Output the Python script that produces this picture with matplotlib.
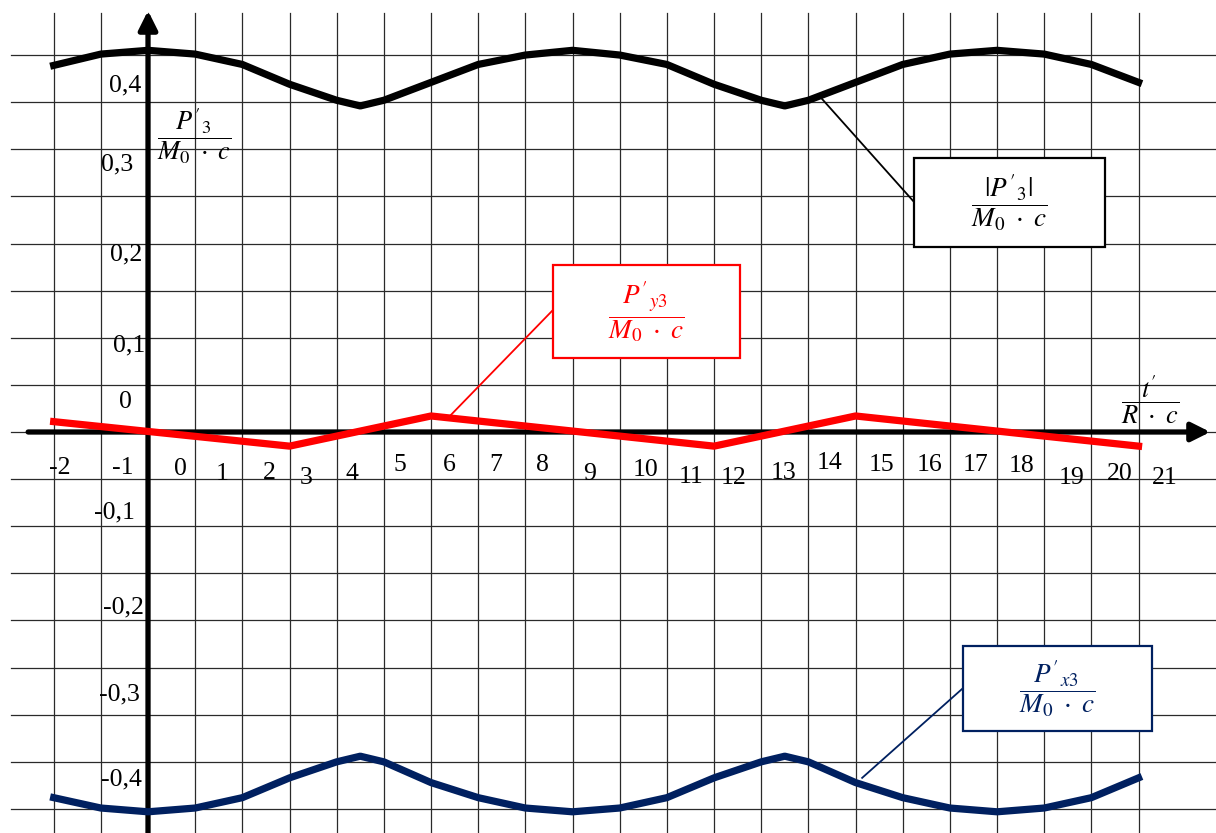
import matplotlib
matplotlib.use("Agg")
import matplotlib.pyplot as plt
from matplotlib.patches import Rectangle

plt.rcParams["mathtext.fontset"] = "stix"
plt.rcParams["font.family"] = "Liberation Serif"

# |P'3| / (M0 c)
abs_x = [-2, -1, 0, 1, 2, 3, 4, 4.5, 5, 6, 7, 8, 9, 10, 11, 12, 13, 13.5, 14, 15, 16, 17, 18, 19, 20, 21]
abs_y = [0.389, 0.401, 0.405, 0.401, 0.390, 0.369, 0.352, 0.346, 0.352, 0.371, 0.390, 0.400, 0.405,
         0.400, 0.390, 0.369, 0.352, 0.346, 0.352, 0.371, 0.390, 0.401, 0.405, 0.401, 0.390, 0.371]

# P'x3 / (M0 c)
px_x = abs_x
px_y = [-0.388, -0.399, -0.403, -0.399, -0.388, -0.367, -0.350, -0.344, -0.350, -0.372, -0.388, -0.399, -0.403,
        -0.399, -0.388, -0.367, -0.350, -0.344, -0.350, -0.372, -0.388, -0.399, -0.403, -0.399, -0.388, -0.367]

# P'y3 / (M0 c)
py_x = [-2, 3, 6, 12, 15, 21]
py_y = [0.011, -0.015, 0.017, -0.015, 0.017, -0.015]

x_ticks = list(range(-2, 22))
x_tick_labels = [str(k) for k in x_ticks]
y_ticks = [0.4, 0.3, 0.2, 0.1, 0.0, -0.1, -0.2, -0.3, -0.4]
y_tick_labels = ["0,4", "0,3", "0,2", "0,1", "0", "-0,1", "-0,2", "-0,3", "-0,4"]

# hand placed label layout (offsets in data units)
x_label_dx = [0.13, 0.47, 0.68, 0.57, 0.57, 0.35, 0.32, 0.34, 0.38, 0.38, 0.37, 0.37,
              0.54, 0.51, 0.42, 0.48, 0.44, 0.56, 0.56, 0.55, 0.51, 0.59, 0.61, 0.56]
x_label_y = [-0.038, -0.038, -0.039, -0.045, -0.044, -0.049, -0.045, -0.035, -0.035, -0.035, -0.035, -0.045,
             -0.040, -0.048, -0.049, -0.043, -0.033, -0.035, -0.035, -0.035, -0.036, -0.049, -0.045, -0.049]
y_label_x = [-0.15, -0.32, -0.13, -0.06, -0.34, -0.28, -0.09, -0.17, -0.13]
y_label_y = [0.368, 0.284, 0.188, 0.092, 0.032, -0.085, -0.186, -0.279, -0.369]

NAVY = "#002060"
RED = "#ff0000"

fig = plt.figure(figsize=(12.16, 8.33), dpi=100)
ax = fig.add_axes([0, 0, 1, 1])
ax.set_xlim(-3.138, 22.642)
ax.set_ylim(-0.4255, 0.4584)
ax.axis("off")

# paper grid
for k in x_ticks:
    ax.plot([k, k], [-0.43, 0.445], color="#2a2a2a", lw=0.9, zorder=1)
for j in range(-8, 9):
    ax.plot([-2.9, 22.7], [j * 0.05, j * 0.05], color="#2a2a2a", lw=0.9, zorder=1)

# axes with arrows
ax.annotate("", xy=(0, 0.450), xytext=(0, -0.43),
            arrowprops=dict(arrowstyle="-|>", lw=3.8, color="black", mutation_scale=28), zorder=3)
ax.annotate("", xy=(22.58, 0), xytext=(-2.6, 0),
            arrowprops=dict(arrowstyle="-|>", lw=3.8, color="black", mutation_scale=28), zorder=3)

for k, lab, dx, ly in zip(x_ticks, x_tick_labels, x_label_dx, x_label_y):
    ax.text(k + dx, ly, lab, ha="center", va="center", fontsize=18.5, zorder=2)
for lab, lx, ly in zip(y_tick_labels, y_label_x, y_label_y):
    ax.text(lx, ly, lab, ha="right", va="center", fontsize=18.5, zorder=2)

# curves
ax.plot(abs_x, abs_y, color="black", lw=5.2, zorder=4)
ax.plot(px_x, px_y, color=NAVY, lw=5.2, zorder=4)
ax.plot(py_x, py_y, color=RED, lw=5.2, zorder=4)

# axis captions
ax.text(0.97, 0.314, r"$\dfrac{P'_{3}}{M_0\ \cdot\ c}$", ha="center", va="center", fontsize=19, zorder=5)
ax.text(21.24, 0.034, r"$\dfrac{t'}{R\ \cdot\ c}$", ha="center", va="center", fontsize=19, zorder=5)


def callout(x0, x1, y0, y1, text, color, tip, base):
    ax.add_patch(Rectangle((x0, y0), x1 - x0, y1 - y0, facecolor="white",
                           edgecolor=color, lw=1.6, zorder=6))
    ax.text((x0 + x1) / 2, (y0 + y1) / 2, text, color=color, ha="center", va="center",
            fontsize=19.5, zorder=7)
    ax.plot([tip[0], base[0]], [tip[1], base[1]], color=color, lw=1.3, zorder=5)


callout(16.24, 20.29, 0.1963, 0.2907, r"$\dfrac{|P'_{3}|}{M_0\ \cdot\ c}$", "black",
        (14.29, 0.3534), (16.24, 0.2441))
callout(8.586, 12.55, 0.0785, 0.1772, r"$\dfrac{P'_{y3}}{M_0\ \cdot\ c}$", RED,
        (6.40, 0.017), (8.586, 0.1295))
callout(17.28, 21.28, -0.3173, -0.2271, r"$\dfrac{P'_{x3}}{M_0\ \cdot\ c}$", NAVY,
        (15.14, -0.367), (17.28, -0.2717))

fig.savefig("out.png", dpi=100)
